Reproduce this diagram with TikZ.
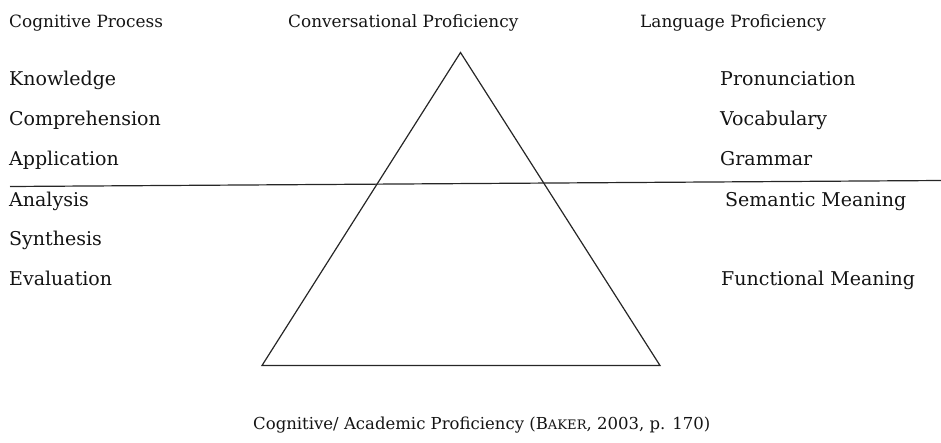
\documentclass[tikz,border=0pt]{standalone}
\usepackage{fontspec}
\setmainfont{DejaVu Serif}
\begin{document}
\begin{tikzpicture}[x=1pt,y=-1pt,
  head/.style={anchor=base west,inner sep=0pt,font=\fontsize{16.9}{18}\selectfont,text=black!92},
  capstyle/.style={anchor=base west,inner sep=0pt,font=\fontsize{16.5}{18}\selectfont,text=black!92},
  item/.style={anchor=base west,inner sep=0pt,font=\fontsize{19}{20}\selectfont,text=black!92},
  edge/.style={draw=black!85,line width=1.2pt,line join=miter}]
\useasboundingbox (0,0) rectangle (941,442);

% column headings
\node[head] (hcog) at (9,27) {Cognitive Process};
\node[head] (hconv) at (288,27) {Conversational Proficiency};
\node[head] (hlang) at (640,27) {Language Proficiency};

% cognitive process levels
\node[item] (know) at (9,85) {Knowledge};
\node[item] (comp) at (9,125.5) {Comprehension};
\node[item] (appl) at (9,165) {Application};
\node[item] (anal) at (9,206.5) {Analysis};
\node[item] (synt) at (9,245.5) {Synthesis};
\node[item] (eval) at (9,285) {Evaluation};

% language proficiency levels
\node[item] (pron) at (720,85) {Pronunciation};
\node[item] (voca) at (720,125.5) {Vocabulary};
\node[item] (gram) at (720,165) {Grammar};
\node[item] (sema) at (725,206.5) {Semantic Meaning};
\node[item] (func) at (721,285) {Functional Meaning};

% iceberg triangle and surface line
\coordinate (apex) at (460.5,52.5);
\coordinate (bl) at (262,365.5);
\coordinate (br) at (660,365.5);
\draw[edge] (apex) -- (br) -- (bl) -- cycle;
\coordinate (wl) at (10,186.5);
\coordinate (wr) at (941,180.5);
\draw[edge] (wl) -- (wr);

% caption
\node[capstyle] (capt) at (253,429) {Cognitive/ Academic Proficiency (B{\fontsize{13.1}{14}\selectfont AKER}, 2003, p. 170)};
\end{tikzpicture}
\end{document}
